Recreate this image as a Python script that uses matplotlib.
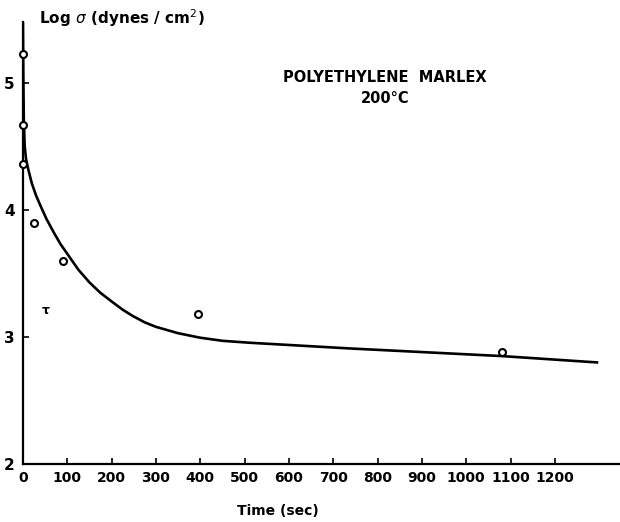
import numpy as np
import matplotlib.pyplot as plt

# measured stress relaxation points, polyethylene Marlex at 200 C
time_pts = [0, 0, 0, 26, 91, 394, 1080]
log_sigma_pts = [5.23, 4.67, 4.36, 3.90, 3.60, 3.18, 2.88]

# hand-drawn relaxation curve
curve_t = [0, 1, 2, 4, 7, 12, 20, 30, 40, 53, 70, 85, 101, 125, 150, 174, 200, 225,
           248, 275, 300, 350, 399, 450, 511, 737, 1080, 1295]
curve_y = [5.48, 5.0, 4.7, 4.5, 4.4, 4.32, 4.21, 4.11, 4.03, 3.93, 3.82, 3.73, 3.65,
           3.53, 3.43, 3.35, 3.28, 3.215, 3.165, 3.115, 3.08, 3.03, 2.995, 2.97, 2.955,
           2.91, 2.85, 2.80]

x_ticks = [0, 100, 200, 300, 400, 500, 600, 700, 800, 900, 1000, 1100, 1200]
y_ticks = [2, 3, 4, 5]

fig = plt.figure(figsize=(6.2, 5.22), dpi=100)
ax = fig.add_axes([0.037, 0.111, 0.963, 0.847])

ax.plot(curve_t, curve_y, color='black', linewidth=1.9, solid_joinstyle='round')
ax.plot(time_pts, log_sigma_pts, linestyle='none', marker='o', markersize=5,
        markerfacecolor='white', markeredgecolor='black', markeredgewidth=1.5,
        zorder=4, clip_on=False)

ax.set_xlim(0, 1347)
ax.set_ylim(2, 5.48)
ax.set_xticks(x_ticks)
ax.set_yticks(y_ticks)
ax.set_xticklabels([str(t) for t in x_ticks], fontsize=10, fontweight='bold')
ax.set_yticklabels([str(v) for v in y_ticks], fontsize=11, fontweight='bold')
ax.tick_params(axis='both', direction='in', length=4, width=1.2)
ax.tick_params(axis='x', pad=5)
ax.tick_params(axis='y', pad=6)

for side in ['top', 'right']:
    ax.spines[side].set_visible(False)
for side in ['left', 'bottom']:
    ax.spines[side].set_linewidth(1.6)

ax.text(51, 3.21, 'τ', fontsize=9, fontweight='bold', ha='center', va='center')

fig.text(0.063, 0.965, r'Log $\sigma$ (dynes / cm$^2$)', fontsize=11, fontweight='bold',
         ha='left', va='center')
fig.text(0.448, 0.022, 'Time (sec)', fontsize=10, fontweight='bold', ha='center', va='center')
fig.text(0.621, 0.852, 'POLYETHYLENE  MARLEX', fontsize=10.5, fontweight='bold',
         ha='center', va='center')
fig.text(0.621, 0.812, '200°C', fontsize=10.5, fontweight='bold', ha='center', va='center')

fig.savefig('out.png', dpi=100)
